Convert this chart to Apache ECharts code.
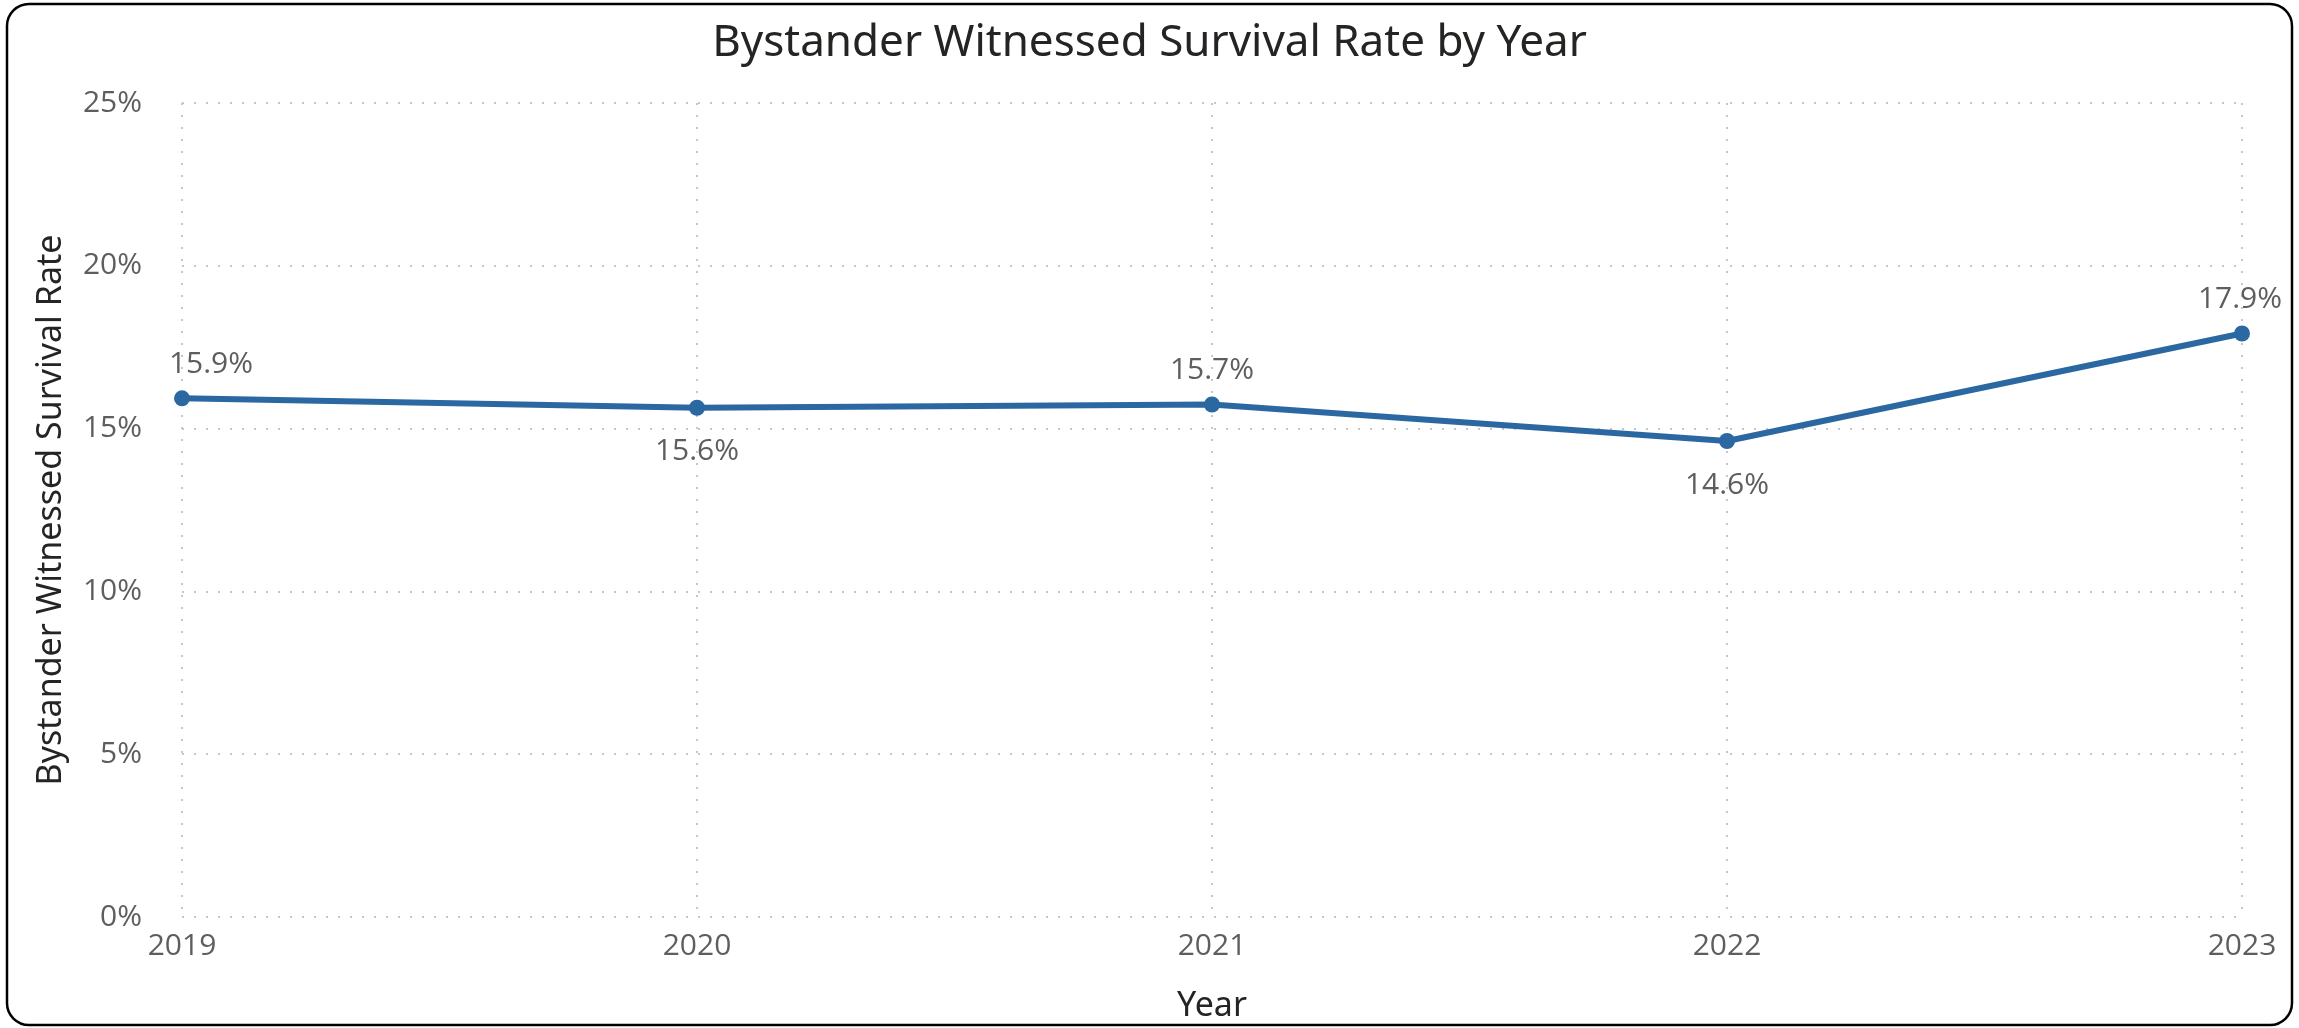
<!DOCTYPE html>
<html>
<head>
<meta charset="utf-8">
<title>Bystander Witnessed Survival Rate by Year</title>
<script src="https://cdn.jsdelivr.net/npm/echarts@6/dist/echarts.min.js"></script>
<style>
  html, body { margin: 0; padding: 0; background: #fff; }
  #chart { width: 2299px; height: 1028px; }
</style>
</head>
<body>
<div id="chart"></div>
<script>
// data
const years = ['2019', '2020', '2021', '2022', '2023']
const survivalRate = [15.93, 15.64, 15.74, 14.62, 17.92]
// which side of the point each data label sits on
const labelSide = ['top', 'bottom', 'top', 'bottom', 'top']
const yTicks = { min: 0, max: 25, step: 5 }

const TITLE_FONT = '"Noto Sans", Roboto, sans-serif'
const TEXT_FONT = '"Open Sans", "Noto Sans", sans-serif'
const LINE_BLUE = '#2B67A1'
const GRID_DOTS = { color: '#C8C6C4', width: 2, type: [2, 10] }

const chart = echarts.init(document.getElementById('chart'), null, { renderer: 'canvas' })

const points = survivalRate.map((v, i) => ({
  value: v,
  label: {
    position: labelSide[i],
    distance: labelSide[i] === 'top' ? 11 : 21,
    // the first label is nudged right so it stays inside the plot
    offset: i === 0 ? [29, 0] : (i === 4 ? [-2, 0] : [0, 0]),
  },
}))

chart.setOption({
  backgroundColor: '#fff',
  animation: false,
  title: {
    text: 'Bystander Witnessed Survival Rate by Year',
    left: 'center',
    top: 16,
    textStyle: { fontFamily: TITLE_FONT, fontSize: 44, fontWeight: 'normal', color: '#252423' },
  },
  // rounded frame around the visual
  graphic: [{
    type: 'rect',
    shape: { x: 7, y: 4, width: 2285, height: 1021, r: 22 },
    style: { fill: 'none', stroke: '#000', lineWidth: 2.5 },
    silent: true,
  }],
  grid: { left: 182, right: 57, top: 103, bottom: 105, containLabel: false },
  xAxis: {
    type: 'category',
    data: years,
    boundaryGap: false,
    name: 'Year',
    nameLocation: 'middle',
    nameGap: 72,
    nameTextStyle: { fontFamily: TITLE_FONT, fontSize: 34, color: '#252423' },
    axisLine: { show: false },
    axisTick: { show: false },
    axisLabel: { fontFamily: TEXT_FONT, fontSize: 30, color: '#605E5C', margin: 14 },
    splitLine: { show: true, lineStyle: GRID_DOTS },
  },
  yAxis: {
    type: 'value',
    min: yTicks.min,
    max: yTicks.max,
    interval: yTicks.step,
    name: 'Bystander Witnessed Survival Rate',
    nameLocation: 'middle',
    nameGap: 114,
    nameTextStyle: { fontFamily: TITLE_FONT, fontSize: 34, color: '#252423' },
    axisLine: { show: false },
    axisTick: { show: false },
    axisLabel: { fontFamily: TEXT_FONT, fontSize: 30, color: '#605E5C', margin: 40, formatter: '{value}%' },
    splitLine: { show: true, lineStyle: GRID_DOTS },
  },
  series: [{
    type: 'line',
    data: points,
    symbol: 'circle',
    symbolSize: 16,
    lineStyle: { color: LINE_BLUE, width: 6 },
    itemStyle: { color: LINE_BLUE },
    label: {
      show: true,
      fontFamily: TEXT_FONT,
      fontSize: 30,
      color: '#605E5C',
      formatter: (p) => p.value.toFixed(1) + '%',
    },
  }],
})
</script>
</body>
</html>
